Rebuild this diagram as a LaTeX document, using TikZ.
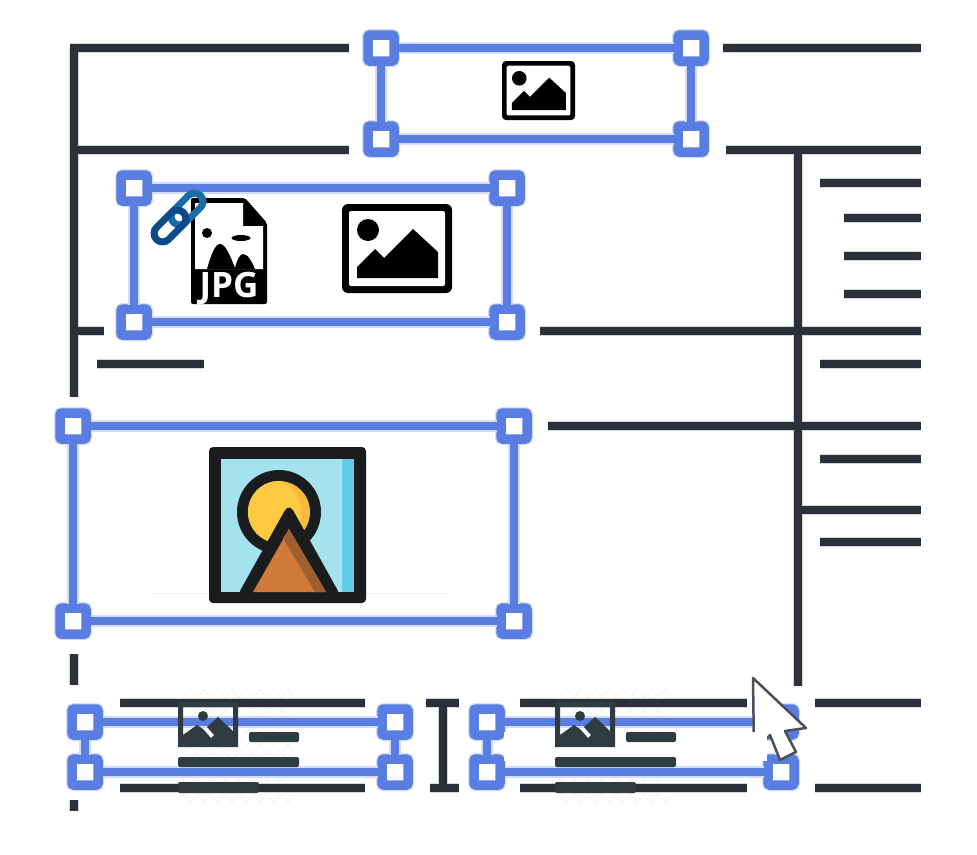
\documentclass[tikz,border=0pt]{standalone}
\usepackage{fontspec}
\setmainfont{Open Sans}
\definecolor{ink}{HTML}{2B303A}
\definecolor{inkhalo}{HTML}{D5D6DA}
\definecolor{wire}{HTML}{5A7DE2}
\definecolor{wirehalo}{HTML}{D3DCF8}
\definecolor{slate}{HTML}{2F3D42}
\definecolor{hatchline}{HTML}{F3F3F3}
\definecolor{paleline}{HTML}{EDF2FB}
\definecolor{LinkBack}{HTML}{1A6EA8}
\definecolor{LinkFront}{HTML}{0D4A8C}
\definecolor{IconBlack}{HTML}{1A1C1E}
\definecolor{IconSky}{HTML}{A4E2F0}
\definecolor{IconStrip}{HTML}{5FCDE4}
\definecolor{IconSunA}{HTML}{FCCB42}
\definecolor{IconSunB}{HTML}{F9B93C}
\definecolor{IconClay}{HTML}{CF7A38}
\definecolor{IconClayDark}{HTML}{A05F2E}
\tikzset{
  inkline/.style={draw=ink,line width=7.5pt,preaction={draw=inkhalo,line width=10pt}},
  handle/.style={draw=wire,fill=white,line width=9.5pt,rounded corners=2pt,minimum size=26pt,inner sep=0pt,outer sep=4.5pt,preaction={draw=wirehalo,line width=12pt}},
  wireline/.style={draw=wire,line width=8.5pt,preaction={draw=wirehalo,line width=12pt}},
  linkring/.style={draw,fill=none,line width=7pt,rounded corners=8.5pt,minimum width=38pt,minimum height=17pt,inner sep=0pt,rotate=45},
}
% x, y of the top-left corner, scale, outer corner radius, inner corner radius
\newcommand{\imgicon}[5]{%
  \begin{scope}[shift={(#1,#2)},x=#3pt,y=-#3pt]
    \fill[black,rounded corners=#4pt] (0,0) rectangle (110,89);
    \fill[white,rounded corners=#5pt] (7,7) rectangle (103,82);
    \fill[black] (26,26) circle[radius=11];
    \fill[black] (15,74) -- (15,63) -- (33,45) -- (42,54) -- (71,25) -- (96,48) -- (96,74) -- cycle;
  \end{scope}}
% x offset of the small slate icon and its text bars
\newcommand{\slateicon}[1]{%
  \begin{scope}[shift={(#1,0)}]
    \fill[slate,even odd rule] (0,702) rectangle (60,747)
      (5,707) -- (55,707) -- (55,731) -- (40,717) -- (29,727) -- (36,735) -- (33,738) -- (25,729) -- (19,725) -- (5,735) -- cycle;
    \fill[slate] (25,716) circle[radius=5];
    \fill[slate,rounded corners=2pt] (71,732) rectangle (121,742);
    \fill[slate,rounded corners=2pt] (0,757) rectangle (121,767);
    \fill[slate,rounded corners=2pt] (0,782) rectangle (81,793);
  \end{scope}}
\newcommand{\hatchbox}[1]{%
  \begin{scope}[shift={(#1,0)}]
    \clip (0,689) rectangle (110,803);
    \foreach \k in {-120,-106,...,240}{
      \draw[hatchline,line width=.7pt] (\k,689) -- ++(114,114);
      \draw[hatchline,line width=.7pt] (\k,803) -- ++(114,-114);
    }
  \end{scope}}
\begin{document}
\begin{tikzpicture}[x=1pt,y=-1pt]
\useasboundingbox (0,0) rectangle (977,854);
\fill[white] (0,0) rectangle (977,854);

% faint transparency checks
\hatchbox{183}
\hatchbox{560}

% dark wireframe
\draw[inkline]
  (70,48) -- (349,48)
  (723,48) -- (921,48)
  (74,48) -- (74,397)
  (74,150) -- (349,150)
  (726,150) -- (921,150)
  (798,150) -- (798,686)
  (820,183) -- (921,183)
  (844,218) -- (921,218)
  (844,256) -- (921,256)
  (844,294) -- (921,294)
  (74,331) -- (104,331)
  (540,331) -- (921,331)
  (97,364) -- (204,364)
  (820,364) -- (921,364)
  (548,426) -- (921,426)
  (820,459) -- (921,459)
  (798,510) -- (921,510)
  (820,542) -- (921,542)
  (74,654) -- (74,685)
  (74,800) -- (74,811)
  (120,703) -- (365,703)
  (520,703) -- (747,703)
  (815,703) -- (921,703)
  (120,788) -- (365,788)
  (520,788) -- (747,788)
  (815,788) -- (921,788)
  (443,703) -- (443,788)
  (426,703) -- (459,703)
  (430,788) -- (459,788);

% selection frames
\node[handle] (a1) at (381,48) {};
\node[handle] (a2) at (691,48) {};
\node[handle] (a3) at (381,139) {};
\node[handle] (a4) at (691,139) {};
\node[handle] (b1) at (134,188) {};
\node[handle] (b2) at (507,188) {};
\node[handle] (b3) at (134,322) {};
\node[handle] (b4) at (507,322) {};
\node[handle] (c1) at (73,426) {};
\node[handle] (c2) at (514,426) {};
\node[handle] (c3) at (73,621) {};
\node[handle] (c4) at (514,621) {};
\node[handle] (d1) at (85,722) {};
\node[handle] (d2) at (395,722) {};
\node[handle] (d3) at (85,772) {};
\node[handle] (d4) at (395,772) {};
\node[handle] (e1) at (487,722) {};
\node[handle] (e2) at (781,722) {};
\node[handle] (e3) at (487,772) {};
\node[handle] (e4) at (781,772) {};

\draw[wireline] (a1) -- (a2);
\draw[wireline] (a2) -- (a4);
\draw[wireline] (a4) -- (a3);
\draw[wireline] (a3) -- (a1);
\draw[wireline] (b1) -- (b2);
\draw[wireline] (b2) -- (b4);
\draw[wireline] (b4) -- (b3);
\draw[wireline] (b3) -- (b1);
\draw[wireline] (c1) -- (c2);
\draw[wireline] (c2) -- (c4);
\draw[wireline] (c4) -- (c3);
\draw[wireline] (c3) -- (c1);
\draw[wireline] (d1) -- (d2);
\draw[wireline] (d2) -- (d4);
\draw[wireline] (d4) -- (d3);
\draw[wireline] (d3) -- (d1);
\draw[wireline] (e1) -- (e2);
\draw[wireline] (e2) -- (e4);
\draw[wireline] (e4) -- (e3);
\draw[wireline] (e3) -- (e1);

% mouse cursor
\draw[fill=white,draw=ink!85!white,line width=2.5pt,line join=round]
  (753,678) -- (806,728) -- (785,731) -- (796,752) -- (780,760) -- (770,735) -- (754,752) -- cycle;

% white patch in the lower right frame
\fill[white] (504,732) rectangle (767,761);
\draw[paleline,line width=1pt] (150,593) -- (450,593);

% slate icons
\slateicon{178}
\slateicon{555}

% JPG file icon
\fill[black,rounded corners=2pt] (191,198) -- (245,198) -- (267,223) -- (267,304) -- (191,304) -- cycle;
\fill[white] (195,203) -- (243,203) -- (243,226) -- (263,226) -- (263,269) -- (195,269) -- cycle;
\fill[black] (207,269) .. controls (211,255) and (215,244) .. (220,244) .. controls (226,244) and (231,258) .. (235,268) .. controls (237,260) and (240,254) .. (243,254) .. controls (248,254) and (252,262) .. (255,269) -- cycle;
\fill[black] (207,233) circle[radius=5];
\fill[black] (241,238) ellipse[x radius=9.5,y radius=3];
\node[text=white,font=\bfseries,inner sep=0pt] (jpg) at (229,288.5) {\fontsize{35}{35}\selectfont JPG};

% chain link
\node[linkring,draw=LinkBack] (linkb) at (187,209) {};
\node[linkring,draw=LinkFront] (linkf) at (170,226) {};

% picture icons
\imgicon{342}{204}{1}{6}{2}
\imgicon{502}{61}{0.664}{4}{1.5}

% coloured landscape icon
\fill[IconBlack,rounded corners=4pt] (209,447) rectangle (366,603);
\fill[IconSky] (221,459) rectangle (354,592);
\fill[IconStrip] (342,459) rectangle (354,592);
\fill[IconBlack] (279,512) circle[radius=42];
\fill[IconSunB] (279,512) circle[radius=31];
\begin{scope}
  \clip (279,512) circle[radius=31];
  \fill[IconSunA] (267,512) circle[radius=34];
\end{scope}
\fill[IconBlack,rounded corners=9pt] (289,503) -- (342,598) -- (236,598) -- cycle;
\fill[IconBlack] (236,592) rectangle (342,600);
\fill[IconClay] (289,529) -- (326,592) -- (253,592) -- cycle;
\fill[IconClayDark] (289,529) -- (326,592) -- (315,592) -- (283,538) -- cycle;
\end{tikzpicture}
\end{document}
